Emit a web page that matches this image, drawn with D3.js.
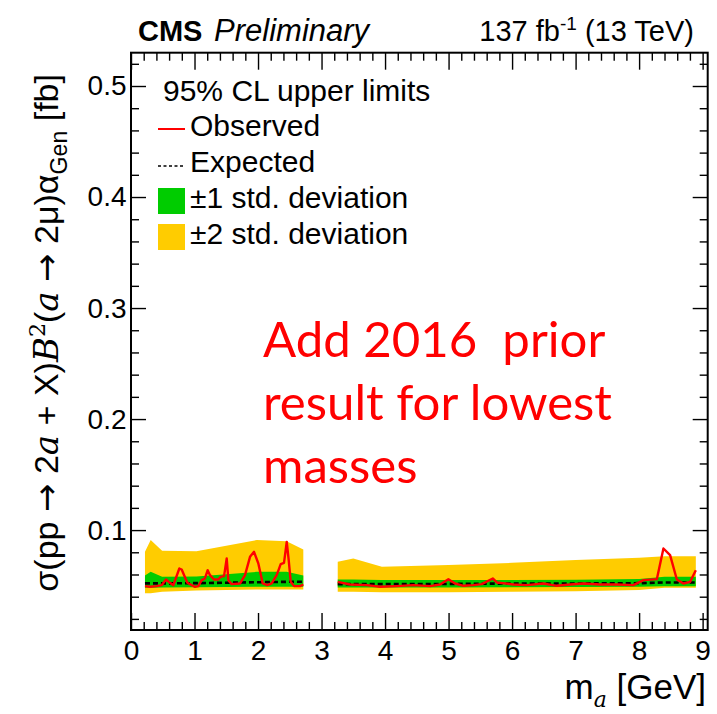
<!DOCTYPE html>
<html>
<head>
<meta charset="utf-8">
<script src="https://cdn.jsdelivr.net/npm/d3@7"></script>
<style>
  html, body { margin: 0; padding: 0; background: #fff; }
  svg { display: block; }
  text { font-family: "Liberation Sans", Arial, Helvetica, sans-serif; fill: #000; }
</style>
</head>
<body>
<svg id="chart" width="717" height="714"></svg>
<script>
// ---- Observed limits, low-mass window (GeV, fb) ----
const massLow = [0.220, 0.299, 0.404, 0.483, 0.551, 0.614, 0.667, 0.761, 0.798, 0.887, 0.955, 1.008,
  1.060, 1.113, 1.165, 1.207, 1.244, 1.307, 1.375, 1.412, 1.465, 1.507, 1.533, 1.585, 1.717, 1.795,
  1.874, 1.937, 2.005, 2.074, 2.147, 2.215, 2.294, 2.357, 2.409, 2.452, 2.483, 2.515, 2.567, 2.661, 2.713];
const observedLow = [0.0495, 0.0489, 0.0495, 0.0504, 0.0555, 0.0525, 0.0504, 0.0654, 0.0645, 0.0525, 0.0504, 0.0489,
  0.0495, 0.0549, 0.0564, 0.0639, 0.0594, 0.0555, 0.0555, 0.0579, 0.0585, 0.0744, 0.0549, 0.0513, 0.0519, 0.0594,
  0.0759, 0.0804, 0.0699, 0.0519, 0.0504, 0.0519, 0.0594, 0.0693, 0.0705, 0.0894, 0.0729, 0.0534, 0.0495, 0.0495, 0.0510];

// ---- Observed limits, high-mass window ----
const massHigh = [3.255, 3.449, 3.711, 3.921, 4.184, 4.446, 4.709, 4.866, 4.997, 5.102, 5.234, 5.391, 5.522,
  5.696, 5.769, 5.811, 6.021, 6.231, 6.493, 6.704, 6.913, 7.123, 7.386, 7.649, 7.911, 8.068, 8.279,
  8.383, 8.488, 8.594, 8.698, 8.803, 8.893];
const observedHigh = [0.0534, 0.0510, 0.0504, 0.0489, 0.0495, 0.0504, 0.0495, 0.0510, 0.0558, 0.0519, 0.0498, 0.0504, 0.0513,
  0.0564, 0.0525, 0.0525, 0.0510, 0.0504, 0.0519, 0.0498, 0.0510, 0.0519, 0.0510, 0.0510, 0.0504, 0.0549, 0.0558,
  0.0834, 0.0774, 0.0555, 0.0519, 0.0534, 0.0639];

// ---- Expected limit and uncertainty bands, low-mass window ----
const bandMassLow   = [0.220, 0.310, 0.490, 1.030, 1.980, 2.450, 2.713];
const expectedLow   = [0.0520, 0.0520, 0.0520, 0.0522, 0.0530, 0.0534, 0.0534];
const sigma1LoLow   = [0.0480, 0.0480, 0.0482, 0.0485, 0.0490, 0.0490, 0.0490];
const sigma1HiLow   = [0.0590, 0.0624, 0.0580, 0.0582, 0.0624, 0.0624, 0.0590];
const sigma2LoLow   = [0.0430, 0.0430, 0.0445, 0.0455, 0.0465, 0.0465, 0.0465];
const sigma2HiLow   = [0.0804, 0.0910, 0.0813, 0.0810, 0.0910, 0.0900, 0.0825];

// ---- Expected limit and uncertainty bands, high-mass window ----
const bandMassHigh  = [3.255, 3.500, 3.950, 5.000, 6.000, 7.000, 8.000, 8.400, 8.893];
const expectedHigh  = [0.0513, 0.0513, 0.0513, 0.0515, 0.0519, 0.0519, 0.0522, 0.0528, 0.0528];
const sigma1LoHigh  = [0.0483, 0.0483, 0.0483, 0.0483, 0.0485, 0.0487, 0.0490, 0.0495, 0.0495];
const sigma1HiHigh  = [0.0555, 0.0555, 0.0550, 0.0550, 0.0550, 0.0552, 0.0560, 0.0579, 0.0579];
const sigma2LoHigh  = [0.0445, 0.0445, 0.0440, 0.0440, 0.0445, 0.0450, 0.0460, 0.0480, 0.0480];
const sigma2HiHigh  = [0.0714, 0.0744, 0.0669, 0.0685, 0.0705, 0.0730, 0.0750, 0.0765, 0.0765];

// ---- Axis ticks ----
const xMajorTicks = [0, 1, 2, 3, 4, 5, 6, 7, 8, 9];
const yMajorTicks = [0.1, 0.2, 0.3, 0.4, 0.5];
const yTickLabels = ["0.1", "0.2", "0.3", "0.4", "0.5"];

// ---- Legend ----
const legendHeader = "95% CL upper limits";
const legendLabels = ["Observed", "Expected", "\u00B11 std. deviation", "\u00B12 std. deviation"];

// ---- Annotation ----
const noteLines = ["Add 2016\u00A0\u00A0prior", "result for lowest", "masses"];

const colors = { observed: "#ff0000", expected: "#000000", sigma1: "#00cc00", sigma2: "#ffcc00" };

const svg = d3.select("#chart");
const frame = { left: 131, right: 707.7, top: 52.7, bottom: 630 };

const x = d3.scaleLinear().domain([0, 9.08]).range([frame.left, frame.right]);
const y = d3.scaleLinear().domain([0.01, 0.53]).range([frame.bottom, frame.top]);

const plot = svg.append("g");

function rows(mass, ...series) {
  return mass.map((m, i) => ({ m, v: series.map(s => s[i]) }));
}

function drawWindow(bandMass, exp, s1lo, s1hi, s2lo, s2hi, obsMass, obs) {
  const band = rows(bandMass, s2lo, s2hi, s1lo, s1hi, exp);
  const area = (lo, hi) => d3.area().x(d => x(d.m)).y0(d => y(d.v[lo])).y1(d => y(d.v[hi]));
  plot.append("path").datum(band).attr("d", area(0, 1)).attr("fill", colors.sigma2);
  plot.append("path").datum(band).attr("d", area(2, 3)).attr("fill", colors.sigma1);
  plot.append("path").datum(band)
    .attr("d", d3.line().x(d => x(d.m)).y(d => y(d.v[4])))
    .attr("fill", "none").attr("stroke", colors.expected)
    .attr("stroke-width", 2.6).attr("stroke-dasharray", "5,3");
  const o = rows(obsMass, obs);
  plot.append("path").datum(o)
    .attr("d", d3.line().x(d => x(d.m)).y(d => y(d.v[0])))
    .attr("fill", "none").attr("stroke", colors.observed)
    .attr("stroke-width", 2.4).attr("stroke-linejoin", "round");
}

drawWindow(bandMassLow, expectedLow, sigma1LoLow, sigma1HiLow, sigma2LoLow, sigma2HiLow, massLow, observedLow);
drawWindow(bandMassHigh, expectedHigh, sigma1LoHigh, sigma1HiHigh, sigma2LoHigh, sigma2HiHigh, massHigh, observedHigh);

// ---- Axes (ROOT style: ticks inward on all four sides) ----
const xMinor = d3.range(0, 46).map(i => +(i * 0.2).toFixed(1)).filter(v => !xMajorTicks.includes(v));
const yMinor = d3.range(1, 27).map(i => +(i * 0.02).toFixed(2)).filter(v => !yMajorTicks.some(t => Math.abs(t - v) < 1e-9) && v <= 0.53);

function styleAxis(g) {
  g.select(".domain").remove();
  g.selectAll("line").attr("stroke", "#000").attr("stroke-width", 1.4);
  g.selectAll("text").style("font-family", "'Liberation Sans', Arial, sans-serif").style("font-size", "28px").attr("fill", "#000");
}

const bottomG = svg.append("g").attr("transform", `translate(0,${frame.bottom})`);
bottomG.append("g").call(d3.axisBottom(x).tickValues(xMajorTicks).tickFormat(d3.format("d")).tickSize(-17).tickSizeOuter(0).tickPadding(10)).call(styleAxis);
bottomG.append("g").call(d3.axisBottom(x).tickValues(xMinor).tickFormat("").tickSize(-8).tickSizeOuter(0)).call(styleAxis);

const topG = svg.append("g").attr("transform", `translate(0,${frame.top})`);
topG.append("g").call(d3.axisTop(x).tickValues(xMajorTicks).tickFormat("").tickSize(-17).tickSizeOuter(0)).call(styleAxis);
topG.append("g").call(d3.axisTop(x).tickValues(xMinor).tickFormat("").tickSize(-8).tickSizeOuter(0)).call(styleAxis);

const leftG = svg.append("g").attr("transform", `translate(${frame.left},0)`);
leftG.append("g").call(d3.axisLeft(y).tickValues(yMajorTicks).tickFormat((d, i) => yTickLabels[i]).tickSize(-15).tickSizeOuter(0).tickPadding(4.5)).call(styleAxis);
leftG.append("g").call(d3.axisLeft(y).tickValues(yMinor).tickFormat("").tickSize(-8).tickSizeOuter(0)).call(styleAxis);

const rightG = svg.append("g").attr("transform", `translate(${frame.right},0)`);
rightG.append("g").call(d3.axisRight(y).tickValues(yMajorTicks).tickFormat("").tickSize(-15).tickSizeOuter(0)).call(styleAxis);
rightG.append("g").call(d3.axisRight(y).tickValues(yMinor).tickFormat("").tickSize(-8).tickSizeOuter(0)).call(styleAxis);

svg.append("rect")
  .attr("x", frame.left).attr("y", frame.top)
  .attr("width", frame.right - frame.left).attr("height", frame.bottom - frame.top)
  .attr("fill", "none").attr("stroke", "#000").attr("stroke-width", 2);

// ---- Header ----
const head = svg.append("text").attr("x", 138).attr("y", 41).style("font-size", "29px");
head.append("tspan").attr("font-weight", "bold").text("CMS");
head.append("tspan").attr("font-style", "italic").style("font-size", "31px").attr("dx", 3).text(" Preliminary");

const lumi = svg.append("text").attr("x", 694).attr("y", 41).attr("text-anchor", "end").style("font-size", "29px");
lumi.append("tspan").text("137 fb");
lumi.append("tspan").attr("dy", -11).style("font-size", "19px").text("-1");
lumi.append("tspan").attr("dy", 11).text(" (13 TeV)");

// ---- Axis titles ----
const serif = "'DejaVu Serif', 'Liberation Serif', serif";
const arrowFont = "'DejaVu Sans', sans-serif";
const xt = svg.append("text").attr("x", 706).attr("y", 699).attr("text-anchor", "end").style("font-size", "35px");
xt.append("tspan").text("m");
xt.append("tspan").attr("dy", 8).style("font-family", serif).style("font-style", "italic").style("font-size", "22px").text("a");
xt.append("tspan").attr("dy", -8).text(" [GeV]");

// y title: sizes given in em so the whole title can be scaled at once
const yt = svg.append("text")
  .attr("transform", "translate(58,74) rotate(-90)")
  .attr("text-anchor", "end").style("font-size", "31px");
const part = (txt, opts = {}) => {
  const t = yt.append("tspan").text(txt);
  if (opts.family) t.style("font-family", opts.family);
  if (opts.italic) t.style("font-style", "italic");
  if (opts.size) t.style("font-size", opts.size + "em");
  if (opts.dy) t.attr("dy", opts.dy + "em");
  return t;
};
part("\u03C3(pp ");
part("\u2192", { family: arrowFont });
part(" 2");
part("a", { family: serif, italic: true });
part(" + X)");
part("B", { family: serif, italic: true });
part("2", { family: serif, size: 0.65, dy: -0.6 });
part("(", { dy: 0.39 });
part("a", { family: serif, italic: true });
part(" ");
part("\u2192", { family: arrowFont });
part(" 2\u03BC)\u03B1");
part("Gen", { size: 0.68, dy: 0.38 });
part(" [fb]", { dy: -0.26 });
// stretch the title along the full height of the frame
const ytLen = yt.node().getComputedTextLength();
yt.style("font-size", (31 * 518 / ytLen) + "px");

// ---- Legend ----
const lg = svg.append("g").style("font-size", "30px");
lg.append("text").attr("x", 163).attr("y", 101).text(legendHeader);
const rowY = [136, 172, 208, 244];
const symX0 = 158, symX1 = 185, textX = 190;
lg.append("line").attr("x1", symX0).attr("x2", symX1).attr("y1", 129).attr("y2", 129)
  .attr("stroke", colors.observed).attr("stroke-width", 2);
lg.append("line").attr("x1", symX0).attr("x2", symX1).attr("y1", 166).attr("y2", 166)
  .attr("stroke", colors.expected).attr("stroke-width", 1.6).attr("stroke-dasharray", "3,2.5");
lg.append("rect").attr("x", symX0).attr("y", 188).attr("width", symX1 - symX0).attr("height", 26).attr("fill", colors.sigma1);
lg.append("rect").attr("x", symX0).attr("y", 224).attr("width", symX1 - symX0).attr("height", 26).attr("fill", colors.sigma2);
legendLabels.forEach((t, i) => lg.append("text").attr("x", textX).attr("y", rowY[i]).text(t));

// ---- Red annotation ----
const note = svg.append("g");
const noteBase = [357, 420, 483];
const noteSize = 48;
noteLines.forEach((t, i) => {
  note.append("text").attr("x", 263).attr("y", noteBase[i])
    .style("font-family", "Lato, 'Open Sans', sans-serif")
    .style("font-size", noteSize + "px").attr("fill", "#ff0000").style("fill", "#ff0000").text(t);
});
// scale the annotation so its widest line spans the intended width
const widest = note.selectAll("text").nodes()[1].getComputedTextLength();
const fitted = noteSize * 349 / widest;
note.selectAll("text").style("font-size", fitted + "px");
</script>
</body>
</html>
